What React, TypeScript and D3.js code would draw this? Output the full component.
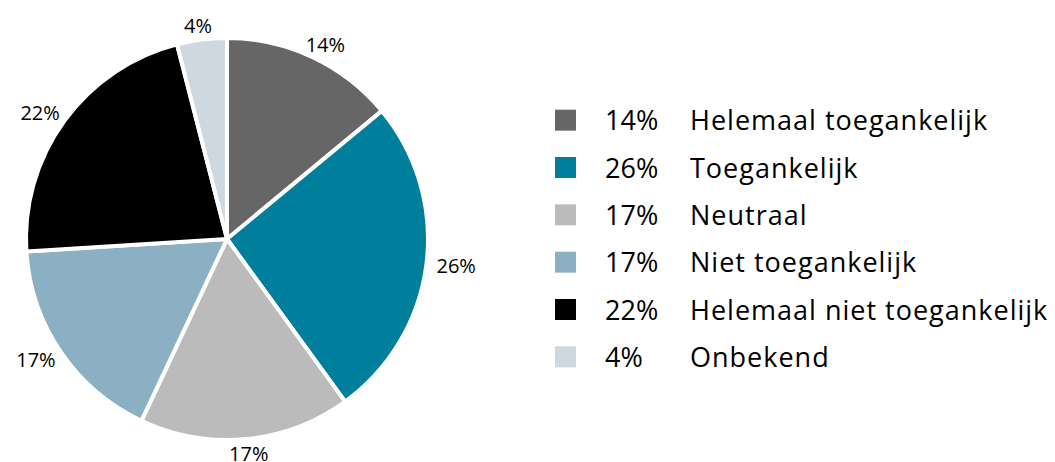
import React from "react";
import * as d3 from "d3";

const categories = ["Helemaal toegankelijk", "Toegankelijk", "Neutraal", "Niet toegankelijk", "Helemaal niet toegankelijk", "Onbekend"];
const values = [14, 26, 17, 17, 22, 4];
const colors = ["#666666", "#007f9c", "#bbbbbb", "#8cb0c3", "#000000", "#ced8e0"];

const W = 1055, H = 462;
const cx = 227, cy = 239, R = 201;
const FONT = "'Open Sans', Lato, sans-serif";

export default function App() {
  const pie = d3.pie<number>().sort(null).value((d) => d);
  const arcs = pie(values);
  const arcGen = d3.arc<d3.PieArcDatum<number>>().innerRadius(0).outerRadius(R);
  const legendY = d3.scaleBand<number>().domain(d3.range(categories.length)).range([96, 380]);

  return (
    <svg width={W} height={H} style={{ position: "absolute", left: 0, top: 0 }} fontFamily={FONT}>
      <g transform={`translate(${cx},${cy})`}>
        {arcs.map((a, i) => (
          <path key={i} d={arcGen(a) || ""} fill={colors[i]} stroke="#ffffff" strokeWidth={4} strokeLinejoin="round" />
        ))}
        {arcs.map((a, i) => {
          const ang = (a.startAngle + a.endAngle) / 2;
          const r0 = R + 6;
          const hw = 24, hh = 8;
          const x = Math.sin(ang) * r0 + Math.sin(ang) * hw;
          const y = -Math.cos(ang) * r0 - Math.cos(ang) * hh;
          return (
            <text key={i} x={x} y={y} textAnchor="middle" dominantBaseline="central" fontSize={20} fill="#000">
              {`${values[i]}%`}
            </text>
          );
        })}
      </g>
      {categories.map((c, i) => {
        const y = (legendY(i) as number) + legendY.bandwidth() / 2;
        return (
          <g key={c}>
            <rect x={555} y={y - 10} width={21} height={21} fill={colors[i]} />
            <text x={605} y={y} dominantBaseline="central" fontSize={27} fill="#000">{`${values[i]}%`}</text>
            <text x={690} y={y} dominantBaseline="central" fontSize={27} letterSpacing={1} fill="#000">{c}</text>
          </g>
        );
      })}
    </svg>
  );
}
